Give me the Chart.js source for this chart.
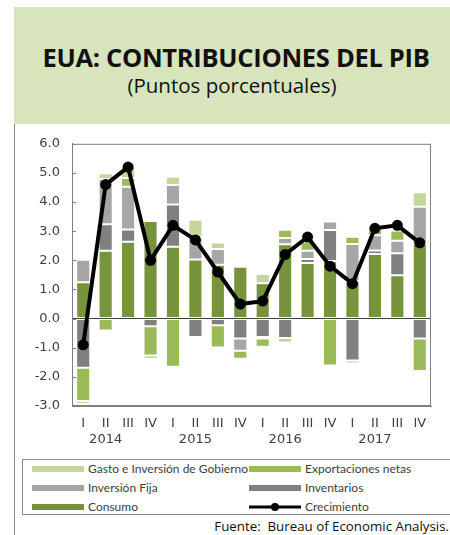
<!DOCTYPE html>
<html>
<head>
<meta charset="utf-8">
<script src="https://cdn.jsdelivr.net/npm/chart.js@4"></script>
<style>
  body { margin: 0; width: 450px; height: 535px; background: #fff; position: relative; overflow: hidden; font-family: "Open Sans", sans-serif; }
  .title-box { position: absolute; left: 14px; top: 7px; width: 436px; height: 117px; background: #d8e4bc; text-align: center; }
  .title-box h1 { margin: 0; position: absolute; left: 0; right: 0; top: 33px; font-size: 25.5px; font-weight: 700; color: #111; letter-spacing: -0.3px; padding-left: 8px; }
  .title-box h2 { margin: 0; position: absolute; left: 0; right: 0; top: 64px; font-size: 20.5px; font-weight: 400; color: #111; }
  .left-rule { position: absolute; left: 14px; top: 124px; width: 1px; height: 411px; background: #8a8a8a; }
  .chart-wrap { position: absolute; left: 0; top: 124px; width: 450px; height: 332px; }
  .legend { position: absolute; left: 22px; top: 459px; width: 440px; height: 54px; border: 1px solid #8a8a8a; border-right: none; }
  .legend .item { position: absolute; font-family: Lato, sans-serif; font-size: 12px; color: #404040; line-height: 16px; white-space: nowrap; }
  .legend .sw { display: inline-block; width: 52px; height: 6px; vertical-align: middle; margin-right: 4px; position: relative; top: -1px; }
  .source { position: absolute; right: 1px; top: 517px; font-size: 13.3px; color: #111; white-space: nowrap; }
</style>
</head>
<body>
<div class="title-box">
  <h1>EUA: CONTRIBUCIONES DEL PIB</h1>
  <h2>(Puntos porcentuales)</h2>
</div>
<div class="left-rule"></div>
<div class="chart-wrap"><canvas id="c"></canvas></div>
<div class="legend" id="legend"></div>
<div class="source">Fuente:&nbsp; Bureau of Economic Analysis.</div>
<script>
const quarters = [["I"], ["II", "2014"], ["III"], ["IV"],
                  ["I"], ["II", "2015"], ["III"], ["IV"],
                  ["I"], ["II", "2016"], ["III"], ["IV"],
                  ["I"], ["II", "2017"], ["III"], ["IV"]];

const consumo       = [1.25, 2.33, 2.64, 3.35, 2.47, 2.03, 1.85, 1.78, 1.21, 2.55, 1.91, 1.98, 1.29, 2.22, 1.49, 2.56];
const inventarios   = [-1.69, 0.91, 0.42, -0.26, 1.45, -0.63, -0.23, -0.68, -0.63, -0.67, 0.14, 1.06, -1.44, 0.12, 0.75, -0.68];
const inversionFija = [0.77, 1.55, 1.47, 0.05, 0.67, 0.75, 0.54, -0.42, -0.05, 0.22, 0.28, 0.29, 1.27, 0.52, 0.43, 1.28];
const exportaciones = [-1.14, -0.41, 0.30, -1.01, -1.65, -0.04, -0.76, -0.28, -0.29, 0.28, 0.31, -1.61, 0.25, 0.22, 0.35, -1.12];
const gobierno      = [-0.10, 0.20, 0.37, -0.12, 0.28, 0.61, 0.22, 0.05, 0.32, -0.15, 0.08, 0.04, -0.10, -0.04, 0.08, 0.50];
const crecimiento   = [-0.9, 4.6, 5.2, 2.0, 3.2, 2.7, 1.6, 0.5, 0.6, 2.2, 2.8, 1.8, 1.2, 3.1, 3.2, 2.6];

const yTicks = [-3, -2, -1, 0, 1, 2, 3, 4, 5, 6];

const colors = {
  gobierno: "#c4d79b",
  exportaciones: "#9bbb59",
  inversionFija: "#a6a6a6",
  inventarios: "#808080",
  consumo: "#77933c"
};

function barSet(label, data, color) {
  return {
    type: "bar",
    label: label,
    data: data,
    backgroundColor: color,
    borderColor: "rgba(255,255,255,0.55)",
    borderWidth: 1,
    borderSkipped: false,
    stack: "pib",
    categoryPercentage: 1,
    barPercentage: 0.63
  };
}

// frame around plot area plus small inward ticks on the y axis
const framePlugin = {
  id: "frame",
  afterDatasetsDraw(chart) {
    const a = chart.chartArea;
    const c = chart.ctx;
    c.save();
    c.strokeStyle = "#7f7f7f";
    c.lineWidth = 1;
    c.strokeRect(a.left + 0.5, a.top + 0.5, a.right - a.left - 1, a.bottom - a.top - 1);
    const y = chart.scales.y;
    y.ticks.forEach(t => {
      const py = Math.round(y.getPixelForValue(t.value)) + 0.5;
      c.beginPath();
      c.moveTo(a.left, py);
      c.lineTo(a.left + 4, py);
      c.stroke();
    });
    c.restore();
  }
};

const chart = new Chart(document.getElementById("c"), {
  data: {
    labels: quarters,
    datasets: [
      {
        type: "line",
        label: "Crecimiento",
        data: crecimiento,
        borderColor: "#000",
        backgroundColor: "#000",
        borderWidth: 4,
        pointRadius: 5.5,
        pointBackgroundColor: "#000",
        pointBorderWidth: 0,
        tension: 0,
        order: -1
      },
      barSet("Consumo", consumo, colors.consumo),
      barSet("Inventarios", inventarios, colors.inventarios),
      barSet("Inversión Fija", inversionFija, colors.inversionFija),
      barSet("Exportaciones netas", exportaciones, colors.exportaciones),
      barSet("Gasto e Inversión de Gobierno", gobierno, colors.gobierno)
    ]
  },
  options: {
    responsive: true,
    maintainAspectRatio: false,
    animation: false,
    layout: { padding: { top: 16, right: 19, left: 0, bottom: 0 } },
    plugins: { legend: { display: false }, tooltip: { enabled: false } },
    scales: {
      x: {
        stacked: true,
        grid: { display: false, drawTicks: false },
        border: { display: true, color: "#7f7f7f" },
        ticks: {
          color: "#404040",
          font: { family: "DejaVu Sans", size: 13 },
          padding: 10,
          maxRotation: 0,
          autoSkip: false
        },
        afterFit: s => { s.height = 50; }
      },
      y: {
        stacked: true,
        min: -3,
        max: 6,
        afterBuildTicks: s => { s.ticks = yTicks.map(v => ({ value: v })); },
        grid: {
          drawTicks: false,
          color: ctx => ctx.tick && ctx.tick.value === 0 ? "#404040" : "rgba(0,0,0,0)",
          lineWidth: 1
        },
        border: { display: true, color: "#7f7f7f" },
        ticks: {
          color: "#404040",
          font: { family: "DejaVu Sans", size: 13 },
          padding: 12,
          callback: v => v.toFixed(1)
        },
        afterFit: s => { s.width = 72; }
      }
    }
  },
  plugins: [framePlugin]
});

// legend built from the chart datasets, two columns
const legendOrder = ["Gasto e Inversión de Gobierno", "Exportaciones netas", "Inversión Fija", "Inventarios", "Consumo", "Crecimiento"];
const legend = document.getElementById("legend");
legendOrder.forEach((name, i) => {
  const ds = chart.data.datasets.find(d => d.label === name);
  const item = document.createElement("div");
  item.className = "item";
  item.style.left = (i % 2 === 0 ? 9 : 226) + "px";
  item.style.top = (1 + Math.floor(i / 2) * 19) + "px";
  let sw;
  if (ds.type === "line") {
    sw = '<svg width="52" height="10" style="vertical-align:middle;margin-right:4px;position:relative;top:-1px"><line x1="0" y1="5" x2="52" y2="5" stroke="#000" stroke-width="3"/><circle cx="26" cy="5" r="4" fill="#000"/></svg>';
  } else {
    sw = '<span class="sw" style="background:' + ds.backgroundColor + '"></span>';
  }
  item.innerHTML = sw + name;
  legend.appendChild(item);
});
</script>
</body>
</html>
